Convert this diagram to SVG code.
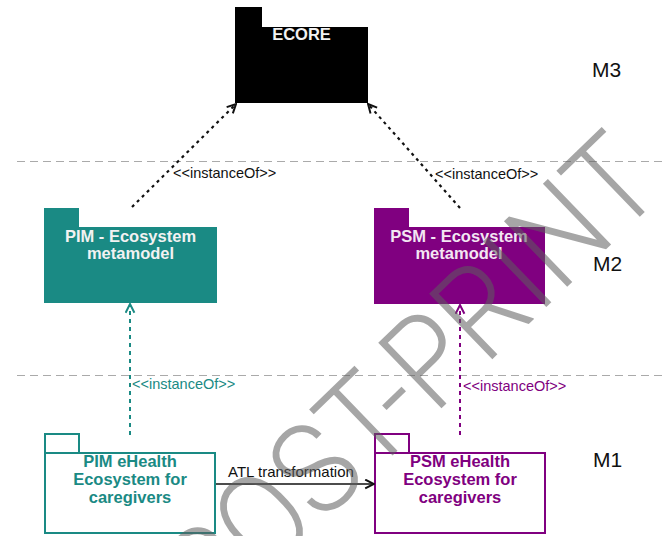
<svg xmlns="http://www.w3.org/2000/svg" width="663" height="536" viewBox="0 0 663 536">
<style>
  .lvl { fill: none; stroke: #aaaaaa; stroke-width: 1.2; stroke-dasharray: 8 5; }
  .bt { font-family: "Liberation Sans", Arial, Helvetica, sans-serif; font-weight: bold; font-size: 16.5px; text-anchor: middle; }
  .lb { font-family: "Liberation Sans", Arial, Helvetica, sans-serif; font-size: 14.5px; }
  .mt { font-family: "Liberation Sans", Arial, Helvetica, sans-serif; font-size: 21px; fill: #111; }
  .dotk { fill: none; stroke: #111; stroke-width: 2.2; stroke-dasharray: 3 4; }
  .dtl { fill: none; stroke: #1a8a84; stroke-width: 2; stroke-dasharray: 4 4; }
  .dpu { fill: none; stroke: #800080; stroke-width: 2; stroke-dasharray: 4 4; }
  .sol { fill: none; stroke: #111; stroke-width: 1.6; }
  .wm { font-family: Roboto, "Open Sans", "Liberation Sans", sans-serif; font-weight: 300; font-size: 128px; fill: #5e5e5e; }
</style>
<defs>
  <marker id="ak" viewBox="0 0 10 10" refX="9" refY="5" markerWidth="11" markerHeight="11" markerUnits="userSpaceOnUse" orient="auto">
    <path d="M1,1 L9,5 L1,9" fill="none" stroke="#111" stroke-width="1.8" stroke-dasharray="none"/>
  </marker>
  <marker id="at" viewBox="0 0 10 10" refX="9" refY="5" markerWidth="11" markerHeight="11" markerUnits="userSpaceOnUse" orient="auto">
    <path d="M1,1 L9,5 L1,9" fill="none" stroke="#1a8a84" stroke-width="1.8" stroke-dasharray="none"/>
  </marker>
  <marker id="ap" viewBox="0 0 10 10" refX="9" refY="5" markerWidth="11" markerHeight="11" markerUnits="userSpaceOnUse" orient="auto">
    <path d="M1,1 L9,5 L1,9" fill="none" stroke="#800080" stroke-width="1.8" stroke-dasharray="none"/>
  </marker>
</defs>
<rect width="663" height="536" fill="#ffffff"/>

<g id="levels">
  <line class="lvl" x1="17" y1="161.5" x2="663" y2="161.5"/>
  <line class="lvl" x1="17" y1="375.5" x2="663" y2="375.5"/>
  <text class="mt" x="592" y="77">M3</text>
  <text class="mt" x="593" y="271">M2</text>
  <text class="mt" x="593" y="467">M1</text>
</g>

<g id="ecore">
  <path d="M235,7 H262 V27 H368 V103 H235 Z" fill="#000"/>
  <text class="bt" x="301.5" y="40" fill="#f2f2f2">ECORE</text>
</g>

<g id="pim-metamodel">
  <path d="M44,208 H79 V227 H217 V303 H44 Z" fill="#1a8a84"/>
  <text class="bt" x="130.5" y="242" fill="#f2f2f2">PIM - Ecosystem</text>
  <text class="bt" x="130.5" y="259" fill="#f2f2f2">metamodel</text>
</g>

<g id="psm-metamodel">
  <path d="M374,208 H409 V227 H545 V304 H374 Z" fill="#800080"/>
  <text class="bt" x="459" y="242" fill="#f3e6f3">PSM - Ecosystem</text>
  <text class="bt" x="459" y="259" fill="#f3e6f3">metamodel</text>
</g>

<g id="pim-ehealth">
  <rect x="45" y="434" width="34" height="19" fill="#fff" stroke="#1a8a84" stroke-width="2"/>
  <rect x="45" y="453" width="170" height="80" fill="#fff" stroke="#1a8a84" stroke-width="2"/>
  <text class="bt" x="130" y="466.5" fill="#1a8a84">PIM eHealth</text>
  <text class="bt" x="130" y="484.5" fill="#1a8a84">Ecosystem for</text>
  <text class="bt" x="130" y="502.5" fill="#1a8a84">caregivers</text>
</g>

<g id="psm-ehealth">
  <rect x="375" y="434" width="34" height="19" fill="#fff" stroke="#800080" stroke-width="2"/>
  <rect x="375" y="453" width="170" height="80" fill="#fff" stroke="#800080" stroke-width="2"/>
  <text class="bt" x="460" y="466.5" fill="#800080">PSM eHealth</text>
  <text class="bt" x="460" y="484.5" fill="#800080">Ecosystem for</text>
  <text class="bt" x="460" y="502.5" fill="#800080">caregivers</text>
</g>

<g id="connectors">
  <path class="dotk" d="M132,207 L236,104" marker-end="url(#ak)"/>
  <text class="lb" x="173" y="178" fill="#111">&lt;&lt;instanceOf&gt;&gt;</text>
  <path class="dotk" d="M460,208 L368,104" marker-end="url(#ak)"/>
  <text class="lb" x="435" y="179" fill="#111">&lt;&lt;instanceOf&gt;&gt;</text>
  <path class="dtl" d="M130,435 L130,304" marker-end="url(#at)"/>
  <text class="lb" x="132" y="389" fill="#1a8a84">&lt;&lt;instanceOf&gt;&gt;</text>
  <path class="dpu" d="M460,435 L460,305" marker-end="url(#ap)"/>
  <text class="lb" x="463" y="391" fill="#800080">&lt;&lt;instanceOf&gt;&gt;</text>
  <path class="sol" d="M216,484 L374,484" marker-end="url(#ak)"/>
  <text class="lb" x="228" y="477" fill="#111" style="font-size:15px">ATL transformation</text>
</g>

<g id="watermark" opacity="0.55">
  <text class="wm" x="0" y="0" transform="translate(214,628) rotate(-44) scale(0.9,1)">POST-PRINT</text>
</g>
</svg>
